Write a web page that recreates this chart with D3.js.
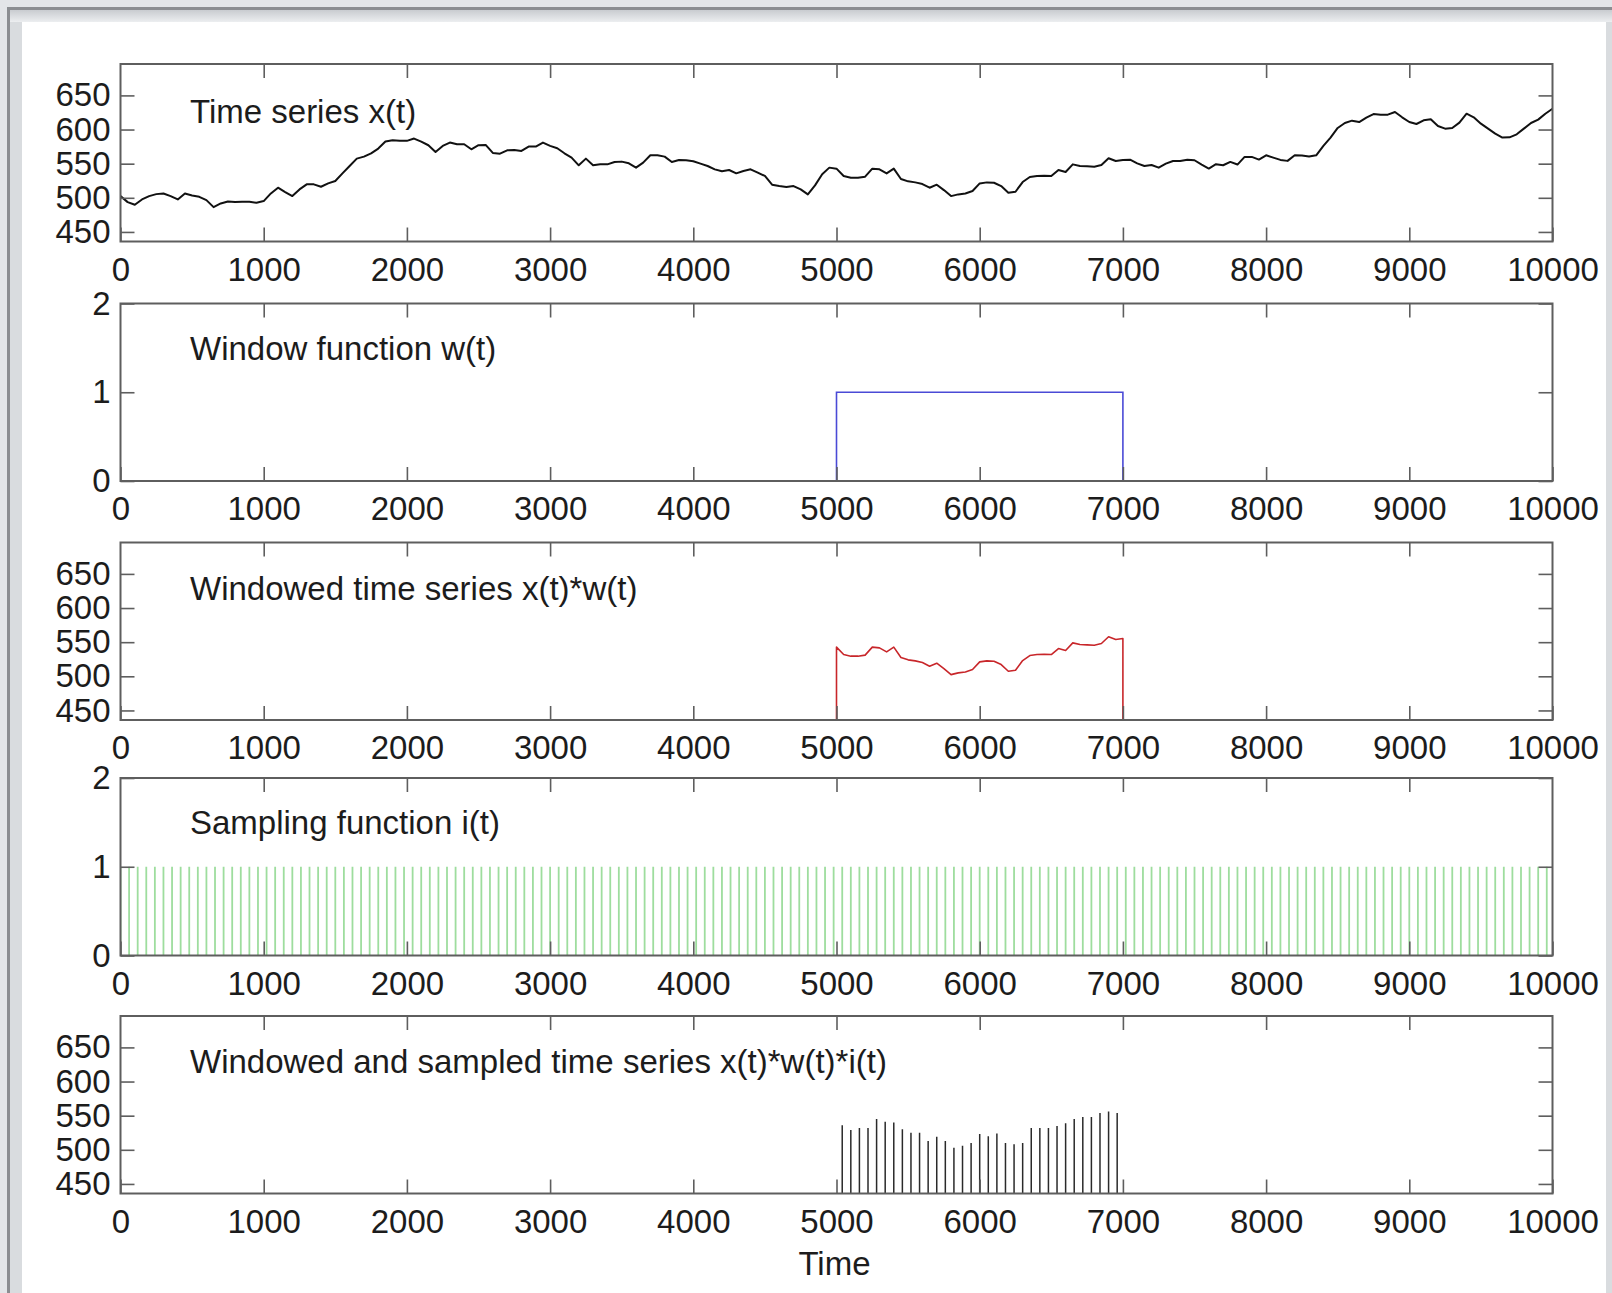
<!DOCTYPE html>
<html><head><meta charset="utf-8">
<script src="https://cdn.jsdelivr.net/npm/d3@7"></script>
<style>body{margin:0;background:#e4e6e9}svg{display:block}</style>
</head><body><svg id="c" width="1612" height="1293"></svg>
<script>
// ---------------- data ----------------
const timeStep = 50; // time series x(t) read every 50 time units, t = 0 .. 10000
const timeSeries = [
  502.5, 493.7, 489.8, 497.6, 502.5, 505.4, 506.4, 502.5, 497.6, 506.4,
  503.5, 501.5, 496.6, 486.3, 491.7, 494.7, 493.7, 494.2, 494.2, 492.7,
  495.2, 506.4, 514.8, 508.4, 502.5, 512.3, 519.7, 519.7, 516.2, 521.1,
  524.6, 535.8, 546.6, 557.4, 560.3, 565.2, 572.1, 582.4, 584.3, 583.4,
  583.4, 586.8, 582.4, 577.0, 567.2, 576.0, 580.9, 578.5, 578.5, 571.1,
  577.0,
  577.5, 565.7, 564.7, 569.6, 570.1, 568.7, 575.0, 575.0, 580.9, 576.0,
  572.6, 565.2, 558.9, 547.6, 557.4, 547.6, 549.0, 549.0, 552.5, 553.0,
  550.5, 544.2, 551.5, 562.3, 562.3, 560.3, 552.5, 555.4, 555.0, 553.5,
  550.0, 546.6, 541.7, 538.8, 540.7, 535.8, 539.3, 541.7, 536.8, 532.0,
  519.2, 517.2, 515.7, 517.2, 512.3, 505.0, 518.2, 534.4, 544.2, 542.7,
  531.9, 529.5, 529.5, 531.0, 542.7, 541.7, 535.8, 542.7, 527.5, 524.1,
  522.6, 520.1, 514.8, 519.2, 511.3, 502.5, 505.0, 506.4, 509.9, 521.1,
  522.6, 522.1, 517.2, 507.4, 508.9, 523.1, 530.4, 531.9, 532.4, 531.9,
  540.7, 537.8, 549.0, 546.6, 546.1, 545.6, 548.1, 557.9, 554.0, 555.4,
  555.9, 550.5, 546.6, 548.1, 544.2, 550.0, 554.0, 554.0, 555.9, 555.0,
  548.7, 542.9, 549.2, 547.7, 552.6, 548.7, 559.9, 559.9, 556.0, 562.3,
  558.9, 555.5, 554.1, 562.3, 561.9, 560.4, 562.3, 576.0, 588.2, 602.3,
  609.6, 613.0, 611.0, 617.4, 622.7, 621.8, 621.8, 625.7, 617.9, 611.0,
  608.1, 613.5, 615.0, 605.2, 601.3, 602.3, 610.1, 623.2, 617.9, 608.6,
  601.3, 594.0, 588.2, 588.6, 593.0, 601.3, 609.6, 614.5, 623.2, 630.5
];
const windowTimes  = [0, 5000, 5000, 7000, 7000, 10000];
const windowValues = [0, 0, 1, 1, 0, 0];
const windowStart = 5000, windowEnd = 7000;
const samplingInterval = 60;
const sampledTimes = [5040, 5100, 5160, 5220, 5280, 5340, 5400, 5460, 5520, 5580, 5640,
  5700, 5760, 5820, 5880, 5940, 6000, 6060, 6120, 6180, 6240, 6300, 6360, 6420, 6480,
  6540, 6600, 6660, 6720, 6780, 6840, 6900, 6960];
const sampledValues = [536, 529, 532, 532, 545, 541, 540, 530, 525, 525, 513,
  519, 513, 503, 506, 510, 523, 520, 524, 510, 508, 510, 532, 532, 532,
  535, 539, 545, 548, 548, 554, 556, 554];
const xTicks = [0, 1000, 2000, 3000, 4000, 5000, 6000, 7000, 8000, 9000, 10000];
const valueTicks = [450, 500, 550, 600, 650];
const unitTicks = [0, 1, 2];
const panelTitles = [
  "Time series x(t)",
  "Window function w(t)",
  "Windowed time series x(t)*w(t)",
  "Sampling function i(t)",
  "Windowed and sampled time series x(t)*w(t)*i(t)"
];
const xAxisLabel = "Time";

// ---------------- layout ----------------
const W = 1612, H = 1293;
const left = 120.5, right = 1552.5;
const panelTops = [64, 303.5, 542.5, 778, 1016];
const panelH = 177.5;
const FONT = "'Liberation Sans', Arial, sans-serif";
const FS = 33;
const axisColor = "#5e5e5e";
const textColor = "#1c1c1c";

const svg = d3.select("#c");

// window frame
svg.append("rect").attr("width", W).attr("height", H).attr("fill", "#e3e5e8");
const defs = svg.append("defs");
const g1 = defs.append("linearGradient").attr("id", "frameGradV").attr("x1", 0).attr("x2", 0).attr("y1", 0).attr("y2", 1);
g1.append("stop").attr("offset", "0%").attr("stop-color", "#c9ccd0");
g1.append("stop").attr("offset", "100%").attr("stop-color", "#eceef0");
svg.append("rect").attr("x", 8.5).attr("y", 8.5).attr("width", W + 20).attr("height", H + 20)
  .attr("fill", "#d9dcdf").attr("stroke", "#8b8d91").attr("stroke-width", 3);
svg.append("rect").attr("x", 10).attr("y", 10).attr("width", W).attr("height", 12).attr("fill", "url(#frameGradV)");
svg.append("rect").attr("x", 22).attr("y", 22).attr("width", 1584).attr("height", H).attr("fill", "#ffffff");

const x = d3.scaleLinear().domain([0, 10000]).range([left, right]);

const seriesPoints = timeSeries.map((v, i) => ({t: i * timeStep, v}));

function makePanel(idx, yDomain, yTicks) {
  const top = panelTops[idx], bottom = top + panelH;
  const y = d3.scaleLinear().domain(yDomain).range([bottom, top]);
  const g = svg.append("g");
  const clipId = "clip" + idx;
  defs.append("clipPath").attr("id", clipId).append("rect")
    .attr("x", left).attr("y", top).attr("width", right - left).attr("height", panelH);
  const plot = g.append("g").attr("clip-path", `url(#${clipId})`);
  const axes = g.append("g");
  return {g, plot, axes, y, top, bottom};
}

function drawAxes(p, yTicks, fmt) {
  const tl = 14;
  const styleAxis = sel => {
    sel.select(".domain").remove();
    sel.selectAll(".tick line").attr("stroke", axisColor).attr("stroke-width", 1.6);
    sel.selectAll(".tick text").attr("fill", textColor).style("font-family", FONT).style("font-size", FS + "px");
  };
  p.axes.append("g").attr("transform", `translate(0,${p.bottom})`)
    .call(d3.axisBottom(x).tickValues(xTicks).tickSizeInner(-tl).tickSizeOuter(0).tickPadding(16).tickFormat(d3.format("d")))
    .call(styleAxis);
  p.axes.append("g").attr("transform", `translate(0,${p.top})`)
    .call(d3.axisTop(x).tickValues(xTicks.slice(1, -1)).tickSizeInner(-tl).tickSizeOuter(0).tickFormat(""))
    .call(styleAxis);
  p.axes.append("g").attr("transform", `translate(${left},0)`)
    .call(d3.axisLeft(p.y).tickValues(yTicks).tickSizeInner(-tl).tickSizeOuter(0).tickPadding(10).tickFormat(fmt))
    .call(styleAxis);
  p.axes.append("g").attr("transform", `translate(${right},0)`)
    .call(d3.axisRight(p.y).tickValues(yTicks).tickSizeInner(-tl).tickSizeOuter(0).tickFormat(""))
    .call(styleAxis);
  // remove ticks lying on the box edges
  p.axes.selectAll(".tick line").filter(function () {
    const t = d3.select(this.parentNode).attr("transform");
    return false;
  });
  p.axes.append("rect").attr("x", left).attr("y", p.top).attr("width", right - left).attr("height", panelH)
    .attr("fill", "none").attr("stroke", axisColor).attr("stroke-width", 2);
}

function drawTitle(p, text, dy) {
  p.g.append("text").attr("x", 190).attr("y", p.top + dy).text(text)
    .attr("fill", textColor).style("font-family", FONT).style("font-size", FS + "px");
}

const valueDomain = [436, 696];

// Panel 1: time series
{
  const p = makePanel(0, valueDomain);
  p.plot.append("path").datum(seriesPoints)
    .attr("d", d3.line().x(d => x(d.t)).y(d => p.y(d.v)))
    .attr("fill", "none").attr("stroke", "#111").attr("stroke-width", 2).attr("stroke-linejoin", "round");
  drawAxes(p, valueTicks, d3.format("d"));
  drawTitle(p, panelTitles[0], 59);
}

// Panel 2: window function
{
  const p = makePanel(1, [0, 2]);
  const pts = windowTimes.map((t, i) => ({t, v: windowValues[i]}));
  p.plot.append("path").datum(pts)
    .attr("d", d3.line().x(d => x(d.t)).y(d => p.y(d.v)))
    .attr("fill", "none").attr("stroke", "#4a4ad6").attr("stroke-width", 1.6);
  drawAxes(p, unitTicks, d3.format("d"));
  drawTitle(p, panelTitles[1], 56);
}

// Panel 3: windowed series x(t)*w(t)
{
  const p = makePanel(2, valueDomain);
  const inside = seriesPoints.filter(d => d.t >= windowStart && d.t <= windowEnd);
  const pts = [{t: windowStart, v: 0}].concat(inside).concat([{t: windowEnd, v: 0}]);
  p.plot.append("path").datum(pts)
    .attr("d", d3.line().x(d => x(d.t)).y(d => p.y(d.v)))
    .attr("fill", "none").attr("stroke", "#c8262a").attr("stroke-width", 1.6).attr("stroke-linejoin", "round");
  drawAxes(p, valueTicks, d3.format("d"));
  drawTitle(p, panelTitles[2], 57);
}

// Panel 4: sampling function
{
  const p = makePanel(3, [0, 2]);
  const combTimes = d3.range(0, 10000, samplingInterval);
  p.plot.selectAll("line.s").data(combTimes).join("line")
    .attr("x1", d => x(d)).attr("x2", d => x(d))
    .attr("y1", p.y(0)).attr("y2", p.y(1))
    .attr("stroke", "#9edd9e").attr("stroke-width", 1.8);
  drawAxes(p, unitTicks, d3.format("d"));
  drawTitle(p, panelTitles[3], 56);
}

// Panel 5: windowed and sampled
{
  const p = makePanel(4, valueDomain);
  p.plot.selectAll("line.s").data(sampledTimes).join("line")
    .attr("x1", d => x(d)).attr("x2", d => x(d))
    .attr("y1", p.y(0)).attr("y2", (d, i) => p.y(sampledValues[i]))
    .attr("stroke", "#2a2a2a").attr("stroke-width", 1.5);
  drawAxes(p, valueTicks, d3.format("d"));
  drawTitle(p, panelTitles[4], 57);
  svg.append("text").attr("x", (left + right) / 2 - 2).attr("y", 1275).attr("text-anchor", "middle")
    .text(xAxisLabel).attr("fill", textColor).style("font-family", FONT).style("font-size", FS + "px");
}
</script></body></html>
